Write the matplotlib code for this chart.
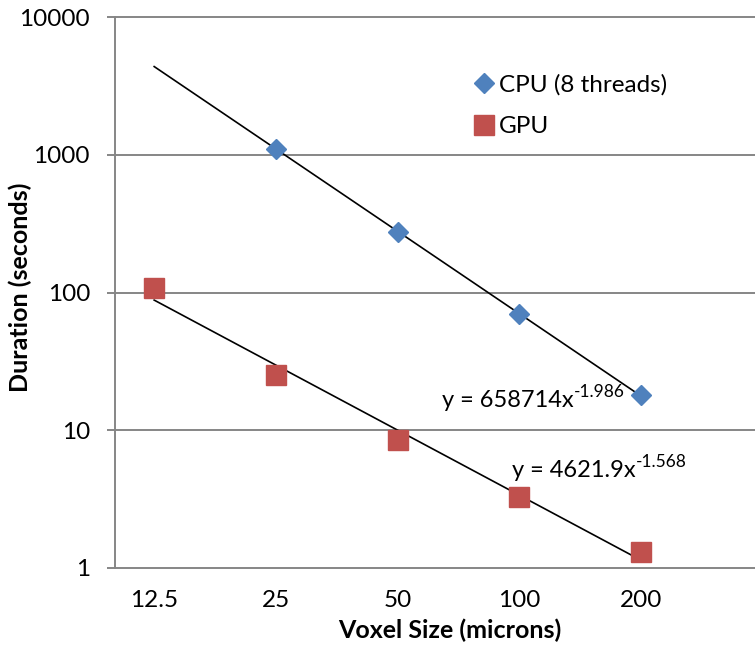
import numpy as np
import matplotlib
matplotlib.use('Agg')
import matplotlib.pyplot as plt
from matplotlib.ticker import FixedLocator, NullLocator

# data
voxel = [12.5, 25, 50, 100, 200]
voxel_labels = ['12.5', '25', '50', '100', '200']
cpu_x = [25, 50, 100, 200]
cpu_y = [1100, 275, 70, 18]
gpu_x = [12.5, 25, 50, 100, 200]
gpu_y = [108, 25, 8.5, 3.3, 1.3]
# power trendline coefficients (as printed on the chart)
cpu_fit = (658714, -1.986)
gpu_fit = (4621.9, -1.568)

plt.rcParams['font.family'] = ['Lato', 'DejaVu Sans']

W, H = 755, 647
fig = plt.figure(figsize=(W / 100, H / 100), dpi=100)
ax = fig.add_axes([115/W, 79/H, 640/W, 551/H])

grid_c = '#868686'
ax.set_yscale('log')
ax.set_xscale('log', base=2)
ax.set_ylim(1, 10000)
ax.set_xlim(10, 383)
for v in [1, 10, 100, 1000, 10000]:
    ax.axhline(v, color=grid_c, lw=1.4, zorder=1, clip_on=False)

xs = np.array(voxel, dtype=float)
ax.plot(xs, cpu_fit[0] * xs ** cpu_fit[1], color='black', lw=1.2, zorder=2)
ax.plot(xs, gpu_fit[0] * xs ** gpu_fit[1], color='black', lw=1.2, zorder=2)

ax.plot(cpu_x, cpu_y, 'D', color='#4F81BD', ms=10, ls='none', zorder=3,
        label='CPU (8 threads)')
ax.plot(gpu_x, gpu_y, 's', color='#C0504D', ms=14, ls='none', zorder=3,
        label='GPU')

ax.xaxis.set_major_locator(FixedLocator(voxel))
ax.xaxis.set_minor_locator(NullLocator())
ax.set_xticklabels(voxel_labels)
ax.yaxis.set_minor_locator(NullLocator())
ax.set_yticks([1, 10, 100, 1000, 10000])
ax.set_yticklabels(['1', '10', '100', '1000', '10000'])
ax.tick_params(axis='x', length=0, pad=16, labelsize=17.5)
ax.tick_params(axis='y', length=6, width=1.4, color=grid_c, pad=12, labelsize=17.5)

for s in ['top', 'right', 'bottom']:
    ax.spines[s].set_visible(False)
ax.spines['left'].set_color(grid_c)
ax.spines['left'].set_linewidth(1.4)

ax.set_xlabel('Voxel Size (microns)', fontsize=18, fontweight='bold')
ax.xaxis.set_label_coords((450 - 115) / 640, (568 - 630) / 551)
ax.xaxis.label.set_va('center')
ax.set_ylabel('Duration (seconds)', fontsize=18, fontweight='bold')
ax.yaxis.set_label_coords((20 - 115) / 640, (568 - 287) / 551)
ax.yaxis.label.set_va('center')

# trendline equations, superscript with a plain hyphen as in Excel
fig.canvas.draw()
rend = fig.canvas.get_renderer()
for (x0, y0), (a, b) in [((442, 407), cpu_fit), ((512, 477), gpu_fit)]:
    t = fig.text(x0 / W, 1 - y0 / H, 'y = %gx' % a, fontsize=17, va='baseline')
    bb = t.get_window_extent(rend)
    fig.text(bb.x1 / W, 1 - (y0 - 10) / H, '%.3f' % b, fontsize=12.5, va='baseline')

ax.legend(loc='upper left', bbox_to_anchor=((460 - 115) / 640, (568 - 62) / 551),
          bbox_transform=ax.transAxes, frameon=False, fontsize=17.5,
          handletextpad=0.12, labelspacing=0.85, handlelength=1.0, borderpad=0)

fig.savefig('out.png', dpi=100)
